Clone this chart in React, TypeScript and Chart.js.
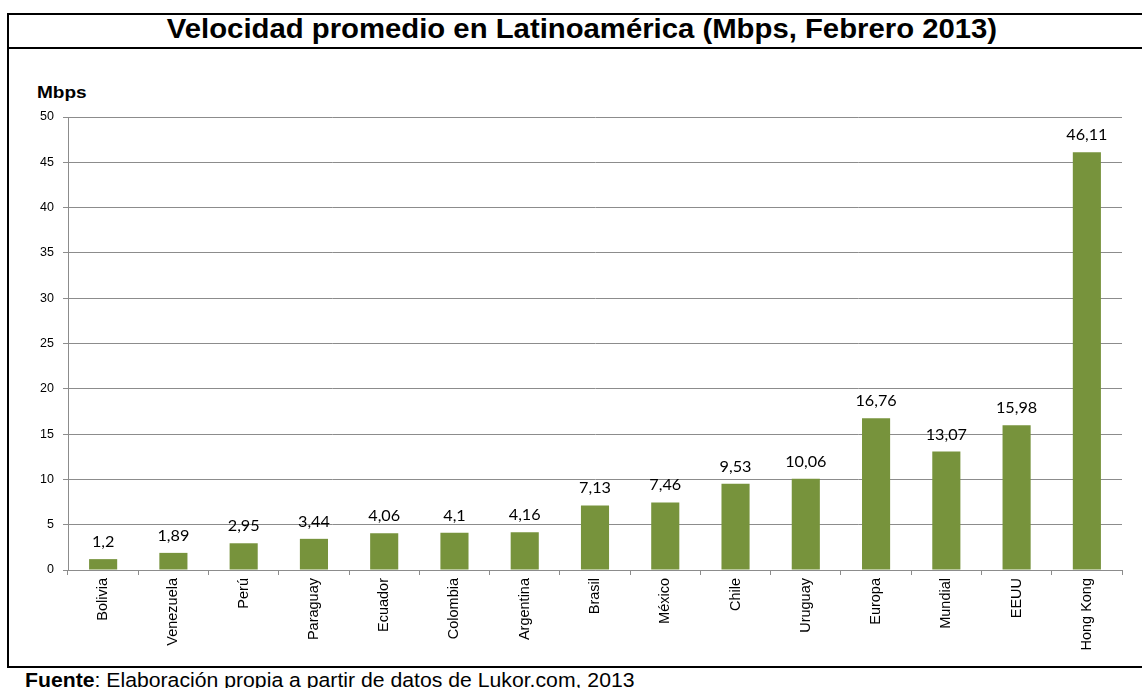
import React, { useEffect, useRef } from "react";
import { Chart, registerables } from "chart.js";

Chart.register(...registerables);

const categories = ["Bolivia", "Venezuela", "Perú", "Paraguay", "Ecuador", "Colombia", "Argentina", "Brasil", "México", "Chile", "Uruguay", "Europa", "Mundial", "EEUU", "Hong Kong"];
const speeds = [1.2, 1.89, 2.95, 3.44, 4.06, 4.1, 4.16, 7.13, 7.46, 9.53, 10.06, 16.76, 13.07, 15.98, 46.11];
const yMin = 0;
const yMax = 50;
const yStep = 5;

const titleText = "Velocidad promedio en Latinoamérica (Mbps, Febrero 2013)";
const axisTitle = "Mbps";
const sourceLabel = "Fuente";
const sourceText = ": Elaboración propia a partir de datos de Lukor.com, 2013";

const ARIAL = "'Liberation Sans', Arial, sans-serif";

const valueLabels = {
  id: "valueLabels",
  afterDatasetsDraw(chart: any) {
    const ctx = chart.ctx;
    const meta = chart.getDatasetMeta(0);
    ctx.save();
    ctx.font = "15px Lato, 'Open Sans', sans-serif";
    ctx.fillStyle = "#000";
    ctx.textAlign = "center";
    ctx.textBaseline = "alphabetic";
    meta.data.forEach((el: any, i: number) => {
      const v = chart.data.datasets[0].data[i];
      ctx.save();
      ctx.translate(el.x, el.y - 12);
      ctx.scale(1.08, 1);
      ctx.fillText(String(v).replace(".", ","), 0, 0);
      ctx.restore();
    });
    ctx.restore();
  },
};

export default function App() {
  const ref = useRef<HTMLCanvasElement | null>(null);
  useEffect(() => {
    if (!ref.current) return;
    const chart = new Chart(ref.current, {
      type: "bar",
      data: {
        labels: categories,
        datasets: [
          {
            data: speeds,
            backgroundColor: "#77933C",
            borderWidth: 0,
            categoryPercentage: 1,
            barPercentage: 0.4,
          },
        ],
      },
      options: {
        animation: false,
        responsive: false,
        maintainAspectRatio: false,
        layout: { padding: { top: 67, right: 20, left: 0, bottom: 0 } },
        plugins: { legend: { display: false }, tooltip: { enabled: false }, title: { display: false } },
        scales: {
          x: {
            type: "category",
            grid: { display: true, drawOnChartArea: false, drawTicks: true, tickLength: 5, color: "#8c8c8c", offset: true },
            border: { display: true, color: "#8c8c8c" },
            ticks: { maxRotation: 90, minRotation: 90, autoSkip: false, padding: 3, color: "#000", font: { family: ARIAL, size: 14.5 } },
            afterFit: (s: any) => { s.height = 95; },
          },
          y: {
            min: yMin,
            max: yMax,
            grid: { color: "#8c8c8c", tickLength: 5 },
            border: { display: true, color: "#8c8c8c" },
            ticks: { stepSize: yStep, padding: 9, color: "#000", font: { family: ARIAL, size: 12.5 } },
            afterFit: (s: any) => { s.width = 58; },
          },
        },
      },
      plugins: [valueLabels],
    });
    return () => chart.destroy();
  }, []);

  return (
    <div style={{ position: "fixed", left: 0, top: 0, width: 1142, height: 688, overflow: "hidden", background: "#fff", fontFamily: ARIAL }}>
      <div style={{ position: "absolute", left: 7, top: 13, width: 1200, height: 655, border: "2px solid #000", boxSizing: "border-box" }} />
      <div style={{ position: "absolute", left: 7, top: 47, width: 1200, height: 2, background: "#000" }} />
      <div style={{ position: "absolute", left: 7, top: 13, width: 1150, height: 33, lineHeight: "33px", fontSize: 27, fontWeight: "bold", textAlign: "center", color: "#000", whiteSpace: "nowrap", transform: "scaleX(1.085)", transformOrigin: "center" }}>{titleText}</div>
      <div style={{ position: "absolute", left: 36.5, top: 84, fontSize: 17, lineHeight: 1, fontWeight: "bold", color: "#000", transform: "scaleX(1.12)", transformOrigin: "left" }}>{axisTitle}</div>
      <canvas ref={ref} width={1132} height={615} style={{ position: "absolute", left: 10, top: 50, width: 1132, height: 615 }} />
      <div style={{ position: "absolute", left: 25, top: 671, fontSize: 19.3, lineHeight: 1, color: "#000", whiteSpace: "nowrap", transform: "scaleX(1.1)", transformOrigin: "left" }}>
        <b>{sourceLabel}</b>{sourceText}
      </div>
    </div>
  );
}
